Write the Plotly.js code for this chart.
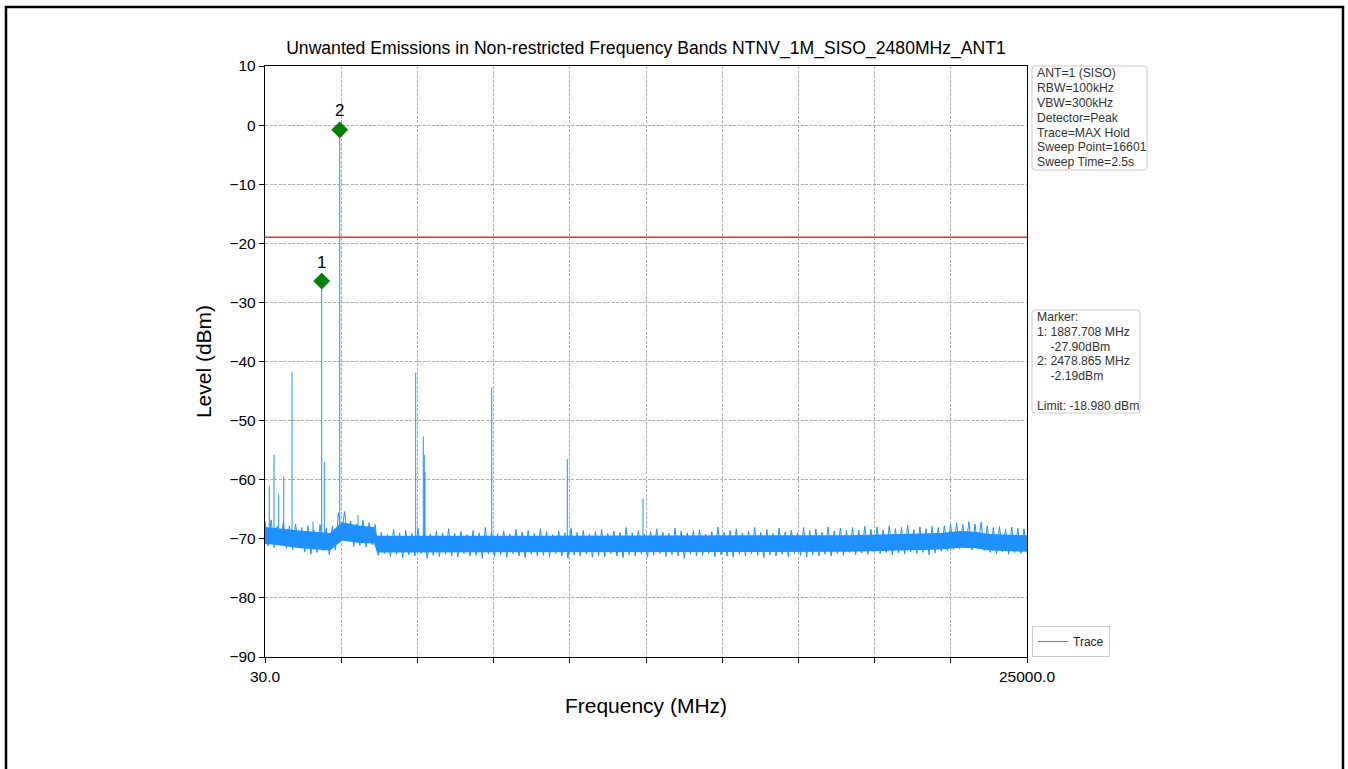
<!DOCTYPE html>
<html>
<head>
<meta charset="utf-8">
<script src="https://cdn.plot.ly/plotly-3.0.1.min.js"></script>
<style>
  html, body { margin: 0; padding: 0; background: #ffffff; }
  #chart { width: 1348px; height: 769px; }
</style>
</head>
<body>
<div id="chart"></div>
<script>
// ---- Data ----
const sweepStartMHz = 30;
const sweepStopMHz = 25000;

// Noise floor samples (dBm), evenly spaced over the sweep
const floorLevels = [
  -67.0,-71.2,-66.8,-71.5,-67.9,-70.9,-67.2,-71.6,-67.8,-71.8,-67.5,-71.3,
  -68.1,-72.2,-67.8,-72.6,-68.5,-72.3,-67.6,-72.0,-68.2,-72.7,-67.9,-71.9,
  -65.6,-69.2,-65.4,
  -70.0,-67.0,-71.3,-67.5,-71.1,-66.9,-71.4,-67.3,-71.0,-67.6,
  -72.8,-68.9,-72.5,-69.3,-73.0,-68.4,-72.6,-69.0,-73.2,-68.6,
  -72.7,-69.1,-72.9,-68.2,-72.5,-68.8,-73.3,-69.2,-72.8,-68.7,
  -73.0,-69.0,-72.6,-68.3,-72.9,-69.1,-73.1,-68.8,-72.5,-69.3,
  -72.9,-68.6,-72.8,-69.0,-73.3,-68.1,-72.6,-68.9,-73.0,-69.1,
  -72.7,-68.7,-73.1,-69.2,-72.5,-68.4,-72.9,-68.9,-73.2,-68.6,
  -72.6,-69.1,-72.9,-68.3,-72.8,-68.8,-73.0,-69.3,-72.5,-68.7,
  -72.9,-69.0,-73.3,-68.2,-72.7,-68.9,-72.9,-68.6,-72.6,-69.2,
  -73.1,-68.8,-72.8,-68.4,-73.0,-69.1,-72.5,-68.7,-72.9,-68.9,
  -73.2,-68.1,-72.7,-69.0,-72.9,-68.6,-72.6,-69.2,-73.1,-68.8,
  -72.8,-68.3,-72.5,-68.9,-73.0,-69.1,-72.7,-68.2,-72.9,-68.7,
  -73.3,-69.0,-72.6,-68.6,-72.9,-68.4,-72.8,-69.2,-72.5,-68.8,
  -73.0,-68.0,-72.7,-68.9,-72.9,-68.6,-73.1,-68.3,-72.6,-69.0,
  -72.9,-68.7,-72.5,-68.1,-72.8,-68.9,-73.2,-68.4,-72.7,-69.1,
  -72.9,-68.2,-72.6,-68.8,-73.0,-68.5,-72.5,-69.0,-72.8,-68.1,
  -73.1,-68.6,-72.7,-68.3,-72.9,-68.9,-72.6,-68.0,-72.9,-68.7,
  -72.5,-68.2,-72.8,-68.6,-72.3,-68.1,-72.7,-68.5,-72.4,-67.9,
  -72.6,-68.4,-72.2,-68.0,-72.5,-68.5,-72.3,-67.8,-72.7,-68.3,
  -72.4,-68.1,-72.6,-67.7,-72.2,-68.4,-72.5,-68.0,-72.3,-68.3,
  -72.7,-67.9,-72.4,-68.1,-72.1,-67.8,-72.0,-67.5,-71.8,-67.3,
  -71.7,-67.6,-71.5,-67.1,-71.9,-67.5,-71.6,-67.2,-72.0,-67.8,
  -72.3,-68.1,-72.5,-67.9,-72.2,-68.4,-72.6,-68.0,-72.3,-68.2,
  -72.5,-68.3,-72.4
];

// Dense core of the noise band (where the trace fills solid), read at coarse points
const coreFreqMHz  = [30,    358,   1177,  2160,  2389,  2553,  3143,  3602,  3700,  11008, 19200, 20839, 22150, 22805, 23297, 23788, 25000];
const coreUpperDbm = [-68.0, -68.2, -68.6, -69.0, -67.9, -67.2, -67.8, -68.0, -69.5, -69.5, -69.4, -69.2, -69.0, -68.7, -68.8, -69.2, -69.4];
const coreLowerDbm = [-70.9, -71.0, -71.6, -72.0, -71.0, -70.3, -70.7, -70.8, -72.3, -72.3, -72.2, -72.0, -71.8, -71.5, -71.6, -72.0, -72.2];

// Discrete emissions (spurs) rising above the floor
const spikeFreqMHz = [171, 325, 479, 643, 915, 1603, 1887.708, 1973, 2478.865, 3078, 4968, 5217, 5250, 5273, 7459, 9936, 12417];
const spikeLevelDbm = [-61.0, -55.8, -62.5, -59.5, -41.8, -67.1, -26.4, -57.0, -0.8, -66.0, -41.9, -52.7, -55.8, -58.7, -44.4, -56.5, -63.2];
const spikeBaseDbm = -70.5;

// Markers (as drawn)
const markerLabels = ["1", "2"];
const markerFreqMHz = [1887.708, 2478.865];
const markerLevelDbm = [-26.4, -0.8];

// Limit line
const limitDbm = -18.98;

// Axis ticks
const xTickCount = 11;
const xTickFirstLabel = "30.0";
const xTickLastLabel = "25000.0";
const yTickVals = [-90, -80, -70, -60, -50, -40, -30, -20, -10, 0, 10];

// Info text
const infoLines = ["ANT=1 (SISO)", "RBW=100kHz", "VBW=300kHz", "Detector=Peak", "Trace=MAX Hold", "Sweep Point=16601", "Sweep Time=2.5s"];
const markerLines = ["Marker:", "1: 1887.708 MHz", "    -27.90dBm", "2: 2478.865 MHz", "    -2.19dBm", "", "Limit: -18.980 dBm"];

// ---- Geometry helpers (plot area in pixels) ----
const PL = 265, PR = 1027, PT = 66, PB = 657;
const pw = PR - PL, ph = PB - PT;
const px2paperX = px => (px - PL) / pw;
const px2paperY = py => (PB - py) / ph;

function roundedBox(x0, y0, x1, y1, r) {
  const X = px2paperX, Y = px2paperY;
  const rx = r / pw, ry = r / ph;
  const a = X(x0), b = X(x1), t = Y(y0), u = Y(y1);
  const path = `M ${a + rx},${t} L ${b - rx},${t} Q ${b},${t} ${b},${t - ry} ` +
    `L ${b},${u + ry} Q ${b},${u} ${b - rx},${u} L ${a + rx},${u} Q ${a},${u} ${a},${u + ry} ` +
    `L ${a},${t - ry} Q ${a},${t} ${a + rx},${t} Z`;
  return { type: "path", xref: "paper", yref: "paper", path: path,
    line: { color: "#cccccc", width: 1 }, fillcolor: "rgba(255,255,255,0.9)", layer: "above" };
}

// ---- Build traces ----
const step = (sweepStopMHz - sweepStartMHz) / (floorLevels.length - 1);
const floorFreq = floorLevels.map((_, i) => sweepStartMHz + i * step);

const spikeX = [], spikeY = [];
spikeFreqMHz.forEach((f, i) => {
  spikeX.push(f, f, null);
  spikeY.push(spikeBaseDbm, spikeLevelDbm[i], null);
});

const xTickVals = [], xTickText = [];
for (let k = 0; k < xTickCount; k++) {
  xTickVals.push(sweepStartMHz + k * (sweepStopMHz - sweepStartMHz) / (xTickCount - 1));
  xTickText.push(k === 0 ? xTickFirstLabel : (k === xTickCount - 1 ? xTickLastLabel : ""));
}

const traceColor = "#1E90FF";
const fontFam = "Liberation Sans, Arial, Helvetica, sans-serif";

const data = [
  {
    x: coreFreqMHz, y: coreUpperDbm, type: "scatter", mode: "lines",
    line: { color: traceColor, width: 0 }, showlegend: false, hoverinfo: "skip"
  },
  {
    x: coreFreqMHz, y: coreLowerDbm, type: "scatter", mode: "lines",
    line: { color: traceColor, width: 0 }, fill: "tonexty", fillcolor: traceColor,
    showlegend: false, hoverinfo: "skip"
  },
  {
    x: floorFreq, y: floorLevels, type: "scatter", mode: "lines",
    name: "Trace", line: { color: traceColor, width: 1 }, showlegend: true,
    hoverinfo: "skip"
  },
  {
    x: spikeX, y: spikeY, type: "scatter", mode: "lines",
    line: { color: traceColor, width: 1 }, showlegend: false, hoverinfo: "skip"
  },
  {
    x: [sweepStartMHz, sweepStopMHz], y: [limitDbm, limitDbm], type: "scatter", mode: "lines",
    line: { color: "#e8302e", width: 1.5 }, showlegend: false, hoverinfo: "skip"
  },
  {
    x: markerFreqMHz, y: markerLevelDbm, type: "scatter", mode: "markers+text",
    text: markerLabels, textposition: "top center",
    textfont: { family: fontFam, size: 17, color: "#000" },
    marker: { symbol: "diamond", size: 13, color: "#087f08" },
    showlegend: false, hoverinfo: "skip"
  }
];

const annotations = [];
infoLines.forEach((s, i) => {
  annotations.push({
    xref: "paper", yref: "paper", x: px2paperX(1035), y: px2paperY(73.5 + i * 14.8),
    xanchor: "left", yanchor: "middle", text: s, showarrow: false, align: "left",
    font: { family: fontFam, size: 12.2, color: "#333" }
  });
});
markerLines.forEach((s, i) => {
  if (s === "") return;
  annotations.push({
    xref: "paper", yref: "paper", x: px2paperX(1035), y: px2paperY(317 + i * 14.8),
    xanchor: "left", yanchor: "middle",
    text: s.replace(/^ +/, m => "\u00a0".repeat(m.length)), showarrow: false, align: "left",
    font: { family: fontFam, size: 12.2, color: "#333" }
  });
});

const layout = {
  width: 1348, height: 769,
  margin: { l: PL, r: 1348 - PR, t: PT, b: 769 - PB, pad: 0 },
  paper_bgcolor: "#ffffff", plot_bgcolor: "#ffffff",
  font: { family: fontFam, color: "#000" },
  title: {
    text: "Unwanted Emissions in Non-restricted Frequency Bands NTNV_1M_SISO_2480MHz_ANT1",
    font: { family: fontFam, size: 17.6, color: "#000" },
    x: 0.5, xref: "paper", xanchor: "center",
    y: 1 - 48 / 769, yref: "container", yanchor: "middle"
  },
  xaxis: {
    range: [sweepStartMHz, sweepStopMHz],
    tickmode: "array", tickvals: xTickVals, ticktext: xTickText,
    ticks: "outside", ticklen: 5, tickcolor: "#000", tickwidth: 1,
    tickfont: { family: fontFam, size: 15.5, color: "#000" },
    showgrid: true, gridcolor: "#b0b0b0", griddash: "3px,1.5px", gridwidth: 1,
    showline: true, linecolor: "#000", linewidth: 1.2, mirror: true,
    zeroline: false,
    title: { text: "Frequency (MHz)", font: { family: fontFam, size: 21, color: "#000" }, standoff: 14 }
  },
  yaxis: {
    range: [-90, 10],
    tickmode: "array", tickvals: yTickVals,
    ticks: "outside", ticklen: 5, tickcolor: "#000", tickwidth: 1,
    tickfont: { family: fontFam, size: 15.5, color: "#000" },
    showgrid: true, gridcolor: "#b0b0b0", griddash: "3px,1.5px", gridwidth: 1,
    showline: true, linecolor: "#000", linewidth: 1.2, mirror: true,
    zeroline: false,
    title: { text: "Level (dBm)", font: { family: fontFam, size: 21, color: "#000" }, standoff: 12 }
  },
  showlegend: true,
  legend: {
    x: px2paperX(1032), xanchor: "left", y: 0, yanchor: "bottom",
    bgcolor: "#ffffff", bordercolor: "#cccccc", borderwidth: 1,
    font: { family: fontFam, size: 12, color: "#222" },
    itemwidth: 30, tracegroupgap: 0
  },
  annotations: annotations,
  shapes: [
    roundedBox(1032, 66, 1147, 170, 3),
    roundedBox(1032, 310, 1140, 413, 3),
    {
      type: "rect", xref: "paper", yref: "paper",
      x0: px2paperX(6), x1: px2paperX(1343),
      y0: -0.3, y1: px2paperY(7),
      line: { color: "#000", width: 2.5 }, fillcolor: "rgba(0,0,0,0)", layer: "above"
    }
  ]
};

Plotly.newPlot("chart", data, layout, { staticPlot: true, displayModeBar: false });
</script>
</body>
</html>
